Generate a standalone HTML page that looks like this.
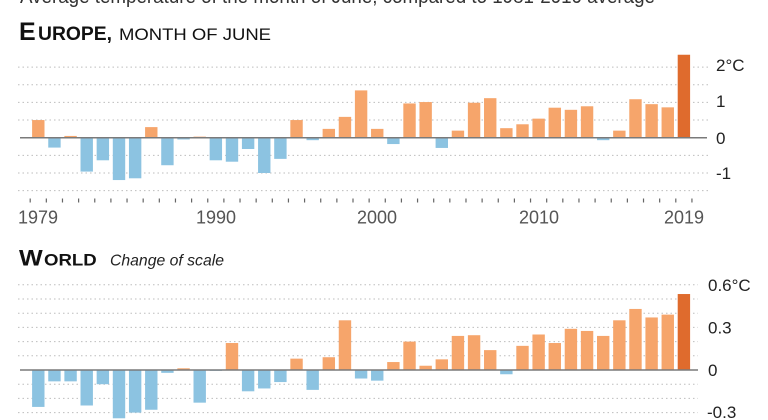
<!DOCTYPE html>
<html>
<head>
<meta charset="utf-8">
<style>
html,body{margin:0;padding:0;background:#fff;}
svg{display:block;}
text{font-family:"Liberation Sans",sans-serif;}
.o{fill:#f6a56b;}
.b{fill:#8cc3e1;}
.d{fill:#df6b2d;}
.g{stroke:#bdbdbd;stroke-width:1;stroke-dasharray:1.5,3;}
.base{stroke:#7a7a7a;stroke-width:1.5;}
.ax{font-size:17px;fill:#222;}
.yr{font-size:18px;fill:#555;text-anchor:middle;}
</style>
</head>
<body>
<svg width="768" height="420" viewBox="0 0 768 420" xmlns="http://www.w3.org/2000/svg">
<rect width="768" height="420" fill="#fff"/>

<!-- cut-off top line -->
<text x="20" y="3" font-size="20" fill="#333" textLength="635" lengthAdjust="spacingAndGlyphs">Average temperature of the month of June, compared to 1981-2010 average</text>

<!-- EUROPE title -->
<text x="19" y="40" font-size="25" font-weight="bold" fill="#111">E</text>
<text x="38" y="40" font-size="19.5" font-weight="bold" fill="#111" textLength="74" lengthAdjust="spacingAndGlyphs">UROPE,</text>
<text x="119" y="40" font-size="16.7" fill="#111" textLength="152" lengthAdjust="spacingAndGlyphs">MONTH OF JUNE</text>

<!-- Europe gridlines -->
<g class="g">
<line x1="18" x2="708" y1="67.1" y2="67.1"/>
<line x1="18" x2="708" y1="84.75" y2="84.75"/>
<line x1="18" x2="708" y1="102.4" y2="102.4"/>
<line x1="18" x2="708" y1="120.05" y2="120.05"/>
<line x1="18" x2="708" y1="155.35" y2="155.35"/>
<line x1="18" x2="708" y1="173" y2="173"/>
<line x1="18" x2="708" y1="190.65" y2="190.65"/>
</g>

<!-- Europe bars -->
<g transform="translate(0,137.7) scale(1,-35.3)">
<rect class="o" x="32.1" y="0" width="12.4" height="0.5"/>
<rect class="b" x="48.24" y="-0.28" width="12.4" height="0.28"/>
<rect class="o" x="64.38" y="0" width="12.4" height="0.05"/>
<rect class="b" x="80.52" y="-0.96" width="12.4" height="0.96"/>
<rect class="b" x="96.66" y="-0.64" width="12.4" height="0.64"/>
<rect class="b" x="112.8" y="-1.2" width="12.4" height="1.2"/>
<rect class="b" x="128.94" y="-1.15" width="12.4" height="1.15"/>
<rect class="o" x="145.08" y="0" width="12.4" height="0.3"/>
<rect class="b" x="161.22" y="-0.78" width="12.4" height="0.78"/>
<rect class="b" x="177.36" y="-0.05" width="12.4" height="0.05"/>
<rect class="o" x="193.5" y="0" width="12.4" height="0.03"/>
<rect class="b" x="209.64" y="-0.64" width="12.4" height="0.64"/>
<rect class="b" x="225.78" y="-0.68" width="12.4" height="0.68"/>
<rect class="b" x="241.92" y="-0.32" width="12.4" height="0.32"/>
<rect class="b" x="258.06" y="-1.0" width="12.4" height="1.0"/>
<rect class="b" x="274.2" y="-0.6" width="12.4" height="0.6"/>
<rect class="o" x="290.34" y="0" width="12.4" height="0.5"/>
<rect class="b" x="306.48" y="-0.07" width="12.4" height="0.07"/>
<rect class="o" x="322.62" y="0" width="12.4" height="0.25"/>
<rect class="o" x="338.76" y="0" width="12.4" height="0.59"/>
<rect class="o" x="354.9" y="0" width="12.4" height="1.34"/>
<rect class="o" x="371.04" y="0" width="12.4" height="0.25"/>
<rect class="b" x="387.18" y="-0.18" width="12.4" height="0.18"/>
<rect class="o" x="403.32" y="0" width="12.4" height="0.97"/>
<rect class="o" x="419.46" y="0" width="12.4" height="1.01"/>
<rect class="b" x="435.6" y="-0.29" width="12.4" height="0.29"/>
<rect class="o" x="451.74" y="0" width="12.4" height="0.2"/>
<rect class="o" x="467.88" y="0" width="12.4" height="0.99"/>
<rect class="o" x="484.02" y="0" width="12.4" height="1.12"/>
<rect class="o" x="500.16" y="0" width="12.4" height="0.27"/>
<rect class="o" x="516.3" y="0" width="12.4" height="0.38"/>
<rect class="o" x="532.44" y="0" width="12.4" height="0.54"/>
<rect class="o" x="548.58" y="0" width="12.4" height="0.85"/>
<rect class="o" x="564.72" y="0" width="12.4" height="0.79"/>
<rect class="o" x="580.86" y="0" width="12.4" height="0.89"/>
<rect class="b" x="597.0" y="-0.07" width="12.4" height="0.07"/>
<rect class="o" x="613.14" y="0" width="12.4" height="0.2"/>
<rect class="o" x="629.28" y="0" width="12.4" height="1.09"/>
<rect class="o" x="645.42" y="0" width="12.4" height="0.95"/>
<rect class="o" x="661.56" y="0" width="12.4" height="0.86"/>
<rect class="d" x="677.7" y="0" width="12.4" height="2.35"/>
</g>
<line class="base" x1="20" x2="707" y1="137.7" y2="137.7"/>

<!-- Europe axis labels -->
<text class="ax" x="716" y="71">2°C</text>
<text class="ax" x="716" y="107">1</text>
<text class="ax" x="716" y="144">0</text>
<text class="ax" x="716" y="179">-1</text>

<!-- Europe ticks -->
<line x1="29.6" x2="693" y1="200.5" y2="200.5" stroke="#666" stroke-width="4" stroke-dasharray="1.2,14.94"/>

<!-- Year labels -->
<text class="yr" x="38" y="223.5">1979</text>
<text class="yr" x="216" y="223.5">1990</text>
<text class="yr" x="377" y="223.5">2000</text>
<text class="yr" x="539" y="223.5">2010</text>
<text class="yr" x="684" y="223.5">2019</text>

<!-- WORLD title -->
<text x="19" y="265.7" font-size="22" font-weight="bold" fill="#111" textLength="23.7" lengthAdjust="spacingAndGlyphs">W</text>
<text x="44" y="265.7" font-size="16.5" font-weight="bold" fill="#111" textLength="52.7" lengthAdjust="spacingAndGlyphs">ORLD</text>
<text x="110" y="265.7" font-size="16" font-style="italic" fill="#222" textLength="114" lengthAdjust="spacingAndGlyphs">Change of scale</text>

<!-- World gridlines -->
<g class="g">
<line x1="18" x2="698" y1="284.8" y2="284.8"/>
<line x1="18" x2="698" y1="299" y2="299"/>
<line x1="18" x2="698" y1="313.2" y2="313.2"/>
<line x1="18" x2="698" y1="327.4" y2="327.4"/>
<line x1="18" x2="698" y1="341.6" y2="341.6"/>
<line x1="18" x2="698" y1="355.8" y2="355.8"/>
<line x1="18" x2="698" y1="384.2" y2="384.2"/>
<line x1="18" x2="698" y1="398.4" y2="398.4"/>
<line x1="18" x2="698" y1="412.6" y2="412.6"/>
</g>

<!-- World bars -->
<g transform="translate(0,370) scale(1,-142)">
<rect class="b" x="32.1" y="-0.26" width="12.4" height="0.26"/>
<rect class="b" x="48.24" y="-0.08" width="12.4" height="0.08"/>
<rect class="b" x="64.38" y="-0.08" width="12.4" height="0.08"/>
<rect class="b" x="80.52" y="-0.25" width="12.4" height="0.25"/>
<rect class="b" x="96.66" y="-0.1" width="12.4" height="0.1"/>
<rect class="b" x="112.8" y="-0.34" width="12.4" height="0.34"/>
<rect class="b" x="128.94" y="-0.3" width="12.4" height="0.3"/>
<rect class="b" x="145.08" y="-0.28" width="12.4" height="0.28"/>
<rect class="b" x="161.22" y="-0.02" width="12.4" height="0.02"/>
<rect class="o" x="177.36" y="0" width="12.4" height="0.012"/>
<rect class="b" x="193.5" y="-0.23" width="12.4" height="0.23"/>
<rect class="b" x="209.64" y="-0.006" width="12.4" height="0.006"/>
<rect class="o" x="225.78" y="0" width="12.4" height="0.19"/>
<rect class="b" x="241.92" y="-0.15" width="12.4" height="0.15"/>
<rect class="b" x="258.06" y="-0.13" width="12.4" height="0.13"/>
<rect class="b" x="274.2" y="-0.085" width="12.4" height="0.085"/>
<rect class="o" x="290.34" y="0" width="12.4" height="0.08"/>
<rect class="b" x="306.48" y="-0.14" width="12.4" height="0.14"/>
<rect class="o" x="322.62" y="0" width="12.4" height="0.09"/>
<rect class="o" x="338.76" y="0" width="12.4" height="0.35"/>
<rect class="b" x="354.9" y="-0.06" width="12.4" height="0.06"/>
<rect class="b" x="371.04" y="-0.075" width="12.4" height="0.075"/>
<rect class="o" x="387.18" y="0" width="12.4" height="0.056"/>
<rect class="o" x="403.32" y="0" width="12.4" height="0.2"/>
<rect class="o" x="419.46" y="0" width="12.4" height="0.03"/>
<rect class="o" x="435.6" y="0" width="12.4" height="0.075"/>
<rect class="o" x="451.74" y="0" width="12.4" height="0.24"/>
<rect class="o" x="467.88" y="0" width="12.4" height="0.245"/>
<rect class="o" x="484.02" y="0" width="12.4" height="0.14"/>
<rect class="b" x="500.16" y="-0.03" width="12.4" height="0.03"/>
<rect class="o" x="516.3" y="0" width="12.4" height="0.17"/>
<rect class="o" x="532.44" y="0" width="12.4" height="0.25"/>
<rect class="o" x="548.58" y="0" width="12.4" height="0.19"/>
<rect class="o" x="564.72" y="0" width="12.4" height="0.29"/>
<rect class="o" x="580.86" y="0" width="12.4" height="0.275"/>
<rect class="o" x="597.0" y="0" width="12.4" height="0.24"/>
<rect class="o" x="613.14" y="0" width="12.4" height="0.35"/>
<rect class="o" x="629.28" y="0" width="12.4" height="0.43"/>
<rect class="o" x="645.42" y="0" width="12.4" height="0.37"/>
<rect class="o" x="661.56" y="0" width="12.4" height="0.39"/>
<rect class="d" x="677.7" y="0" width="12.4" height="0.535"/>
</g>
<line class="base" x1="20" x2="698" y1="370" y2="370"/>

<!-- World axis labels -->
<text class="ax" x="708" y="291">0.6°C</text>
<text class="ax" x="708" y="333.5">0.3</text>
<text class="ax" x="708" y="376">0</text>
<text class="ax" x="707" y="418">-0.3</text>
</svg>
</body>
</html>
